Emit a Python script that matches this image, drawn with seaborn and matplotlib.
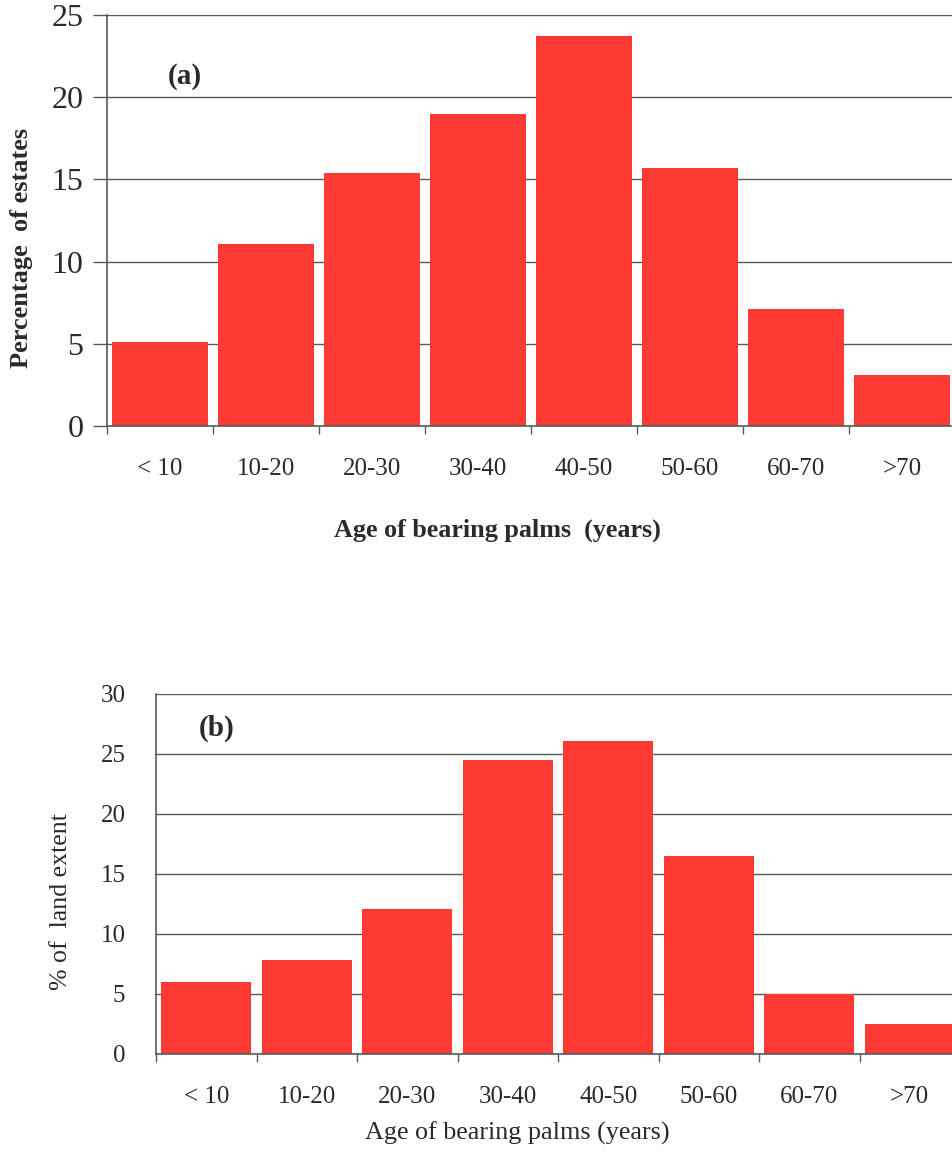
import matplotlib
matplotlib.use("Agg")
import matplotlib.pyplot as plt
import seaborn as sns
import numpy as np

categories = ["< 10", "10-20", "20-30", "30-40", "40-50", "50-60", "60-70", ">70"]
estates_pct = [5.1, 11.1, 15.4, 19.0, 23.7, 15.7, 7.1, 3.1]
land_pct = [6.0, 7.8, 12.1, 24.5, 26.1, 16.5, 5.0, 2.5]
yticks_a = [0, 5, 10, 15, 20, 25]
yticks_b = [0, 5, 10, 15, 20, 25, 30]

sns.set_theme(style="white")
plt.rcParams["font.family"] = ["Liberation Serif", "DejaVu Serif"]

BAR = "#fc3a33"
GRID = "#555a5a"
TXT = "#2a2a2a"

fig = plt.figure(figsize=(9.53, 11.6), dpi=100)
W, H = 953, 1160

def px_axes(l, t, r, b):
    return fig.add_axes([l / W, 1 - b / H, (r - l) / W, (b - t) / H])

ax1 = px_axes(107, 15, 955, 426)
ax2 = px_axes(156, 694, 960, 1054)

def style(ax, vals, yt, ylabel, xlabel, tag, bold, ysize, ytick_len, ypad,
          xlab_xy, ylab_xy, tag_xy, ylab_size, xlab_size):
    sns.barplot(x=categories, y=vals, color=BAR, saturation=1, width=0.9,
                ax=ax, zorder=2, edgecolor="none")
    ax.set_xlim(-0.5, len(categories) - 0.5)
    ax.set_ylim(yt[0], yt[-1])
    ax.set_yticks(yt)
    ax.set_yticklabels([str(v) for v in yt])
    ax.grid(False)
    for v in yt[1:]:
        ax.axhline(v, color=GRID, lw=1.0, zorder=1)
    for s in ["top", "right"]:
        ax.spines[s].set_visible(False)
    for s in ["left", "bottom"]:
        ax.spines[s].set_visible(True)
        ax.spines[s].set_color(GRID)
        ax.spines[s].set_linewidth(1.2)
    ax.set_xticks(np.arange(len(categories)))
    ax.set_xticks(np.arange(len(categories) + 1) - 0.5, minor=True)
    ax.tick_params(axis="x", which="major", length=0, pad=23, labelsize=18, labelcolor=TXT)
    ax.tick_params(axis="x", which="minor", length=6, width=1.0, color=GRID, direction="out", bottom=True)
    ax.tick_params(axis="y", which="major", length=ytick_len, width=1.0, color=GRID,
                   direction="out", pad=ypad, labelsize=ysize, labelcolor=TXT, left=True)
    weight = "bold" if bold else "normal"
    ax.set_xlabel(xlabel, fontsize=xlab_size, fontweight=weight, color=TXT)
    ax.set_ylabel(ylabel, fontsize=ylab_size, fontweight=weight, color=TXT)
    ax.xaxis.set_label_coords(*xlab_xy)
    ax.yaxis.set_label_coords(*ylab_xy)
    ax.text(tag_xy[0], tag_xy[1], tag, transform=ax.transAxes, fontsize=21,
            fontweight="bold", ha="center", va="center", color=TXT)

style(ax1, estates_pct, yticks_a, "Percentage  of estates", "Age of bearing palms  (years)", "(a)",
      True, 23, 10, 7, (0.46, -0.225), (-0.087, 0.434), ((185 - 107) / 848, (426 - 76) / 411),
      19, 18.8)
style(ax2, land_pct, yticks_b, "% of  land extent", "Age of bearing palms (years)", "(b)",
      False, 18, 0, 22, (0.449, -0.188), (-0.104, 0.424), ((217 - 156) / 804, (1054 - 728) / 360),
      18.6, 18.8)

fig.savefig("out.png", dpi=100, facecolor="white")
